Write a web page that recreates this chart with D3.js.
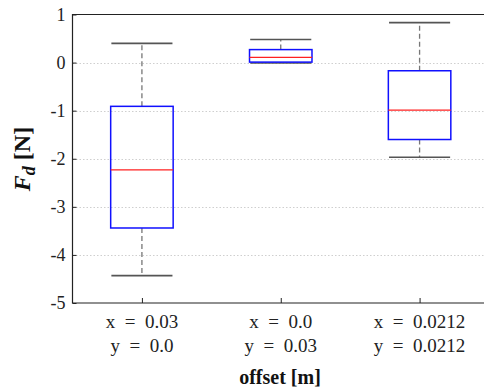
<!DOCTYPE html>
<html>
<head>
<meta charset="utf-8">
<script src="https://cdn.jsdelivr.net/npm/d3@7"></script>
<style>
  body { margin: 0; background: #fff; }
  svg text { font-family: "Liberation Serif", "DejaVu Serif", serif; }
</style>
</head>
<body>
<div id="chart"></div>
<script>
// data
const labelsX = ["x = 0.03", "x = 0.0", "x = 0.0212"];
const labelsY = ["y = 0.0", "y = 0.03", "y = 0.0212"];
const whiskerLow = [-4.43, -0.01, -1.97];
const q1 = [-3.44, 0.01, -1.6];
const median = [-2.23, 0.11, -0.99];
const q3 = [-0.91, 0.27, -0.17];
const whiskerHigh = [0.4, 0.48, 0.83];
const yTicks = [1, 0, -1, -2, -3, -4, -5];

const svg = d3.select("#chart")
  .append("svg")
  .attr("width", 484)
  .attr("height", 390)
  .attr("font-family", "Liberation Serif, serif");

// right side of the axes box falls outside the picture
const xScale = d3.scaleLinear().domain([0.5, 3.5]).range([72.5, 489]);
const yScale = d3.scaleLinear().domain([-5, 1]).range([303, 14.5]);

// grid lines
svg.append("g")
  .selectAll("line")
  .data(yTicks.filter(d => d > -5 && d < 1))
  .join("line")
  .attr("x1", xScale(0.5))
  .attr("x2", 484)
  .attr("y1", d => Math.round(yScale(d)) + 0.5)
  .attr("y2", d => Math.round(yScale(d)) + 0.5)
  .attr("stroke", "#cfcfcf")
  .attr("stroke-width", 1)
  .attr("stroke-dasharray", "1.5,2");

// y axis
const yAxis = d3.axisRight(yScale).tickValues(yTicks).tickSize(4).tickFormat(d => String(d));
const gy = svg.append("g")
  .attr("transform", "translate(" + xScale(0.5) + ",0)")
  .call(yAxis)
  .attr("font-family", null);
gy.select(".domain").remove();
gy.selectAll("text")
  .attr("x", -7)
  .attr("text-anchor", "end")
  .attr("font-size", 18)
  .attr("fill", "#222");
gy.selectAll("line").attr("stroke", "#222");

// x axis
const xAxis = d3.axisTop(xScale).tickValues([1, 2, 3]).tickSize(5).tickFormat("");
const gx = svg.append("g")
  .attr("transform", "translate(0," + yScale(-5) + ")")
  .call(xAxis);
gx.select(".domain").remove();
gx.selectAll("line").attr("stroke", "#222");

// box frame (left, top, bottom)
svg.append("path")
  .attr("d", "M484," + yScale(1) + "H" + xScale(0.5) + "V" + yScale(-5) + "H484")
  .attr("fill", "none")
  .attr("stroke", "#222")
  .attr("stroke-width", 1.2);

const idx = [0, 1, 2];
const boxW = 0.45, capW = 0.22;

// whiskers
const g = svg.append("g");
g.selectAll(".whisker-up")
  .data(idx)
  .join("line")
  .attr("x1", i => xScale(i + 1))
  .attr("x2", i => xScale(i + 1))
  .attr("y1", i => yScale(q3[i]))
  .attr("y2", i => yScale(whiskerHigh[i]))
  .attr("stroke", "#777")
  .attr("stroke-width", 1.3)
  .attr("stroke-dasharray", "5,3");
g.selectAll(".whisker-down")
  .data(idx)
  .join("line")
  .attr("x1", i => xScale(i + 1))
  .attr("x2", i => xScale(i + 1))
  .attr("y1", i => yScale(q1[i]))
  .attr("y2", i => yScale(whiskerLow[i]))
  .attr("stroke", "#777")
  .attr("stroke-width", 1.3)
  .attr("stroke-dasharray", "5,3");

// caps
[whiskerHigh, whiskerLow].forEach(function (arr) {
  g.append("g").selectAll("line")
    .data(idx)
    .join("line")
    .attr("x1", i => xScale(i + 1 - capW))
    .attr("x2", i => xScale(i + 1 + capW))
    .attr("y1", i => yScale(arr[i]))
    .attr("y2", i => yScale(arr[i]))
    .attr("stroke", "#555")
    .attr("stroke-width", 1.6);
});

// boxes
g.selectAll("rect")
  .data(idx)
  .join("rect")
  .attr("x", i => xScale(i + 1 - boxW / 2))
  .attr("width", xScale(1 + boxW / 2) - xScale(1 - boxW / 2))
  .attr("y", i => yScale(q3[i]))
  .attr("height", i => yScale(q1[i]) - yScale(q3[i]))
  .attr("fill", "none")
  .attr("stroke", "#1010ff")
  .attr("stroke-width", 1.5);

// medians
g.selectAll(".median")
  .data(idx)
  .join("line")
  .attr("x1", i => xScale(i + 1 - boxW / 2))
  .attr("x2", i => xScale(i + 1 + boxW / 2))
  .attr("y1", i => yScale(median[i]))
  .attr("y2", i => yScale(median[i]))
  .attr("stroke", "#ff2020")
  .attr("stroke-width", 1.3);

// category labels
svg.append("g").selectAll("text")
  .data(idx)
  .join("text")
  .attr("x", i => xScale(i + 1))
  .attr("y", 328)
  .attr("text-anchor", "middle")
  .attr("font-size", 19)
  .attr("fill", "#222")
  .style("white-space", "pre")
  .text(i => labelsX[i].replace(" = ", "  =  "));
svg.append("g").selectAll("text")
  .data(idx)
  .join("text")
  .attr("x", i => xScale(i + 1))
  .attr("y", 352)
  .attr("text-anchor", "middle")
  .attr("font-size", 19)
  .attr("fill", "#222")
  .style("white-space", "pre")
  .text(i => labelsY[i].replace(" = ", "  =  "));

// axis titles
svg.append("text")
  .attr("x", 280)
  .attr("y", 384)
  .attr("text-anchor", "middle")
  .attr("font-size", 20)
  .attr("font-weight", "bold")
  .attr("fill", "#111")
  .text("offset [m]");

const yl = svg.append("text")
  .attr("transform", "translate(30,159) rotate(-90)")
  .attr("text-anchor", "middle")
  .attr("font-size", 24)
  .attr("font-weight", "bold")
  .attr("fill", "#111");
yl.append("tspan").attr("font-style", "italic").text("F");
yl.append("tspan").attr("font-style", "italic").attr("font-size", 18).attr("dy", 5).text("d");
yl.append("tspan").attr("dy", -5).text(" [N]");
</script>
</body>
</html>
